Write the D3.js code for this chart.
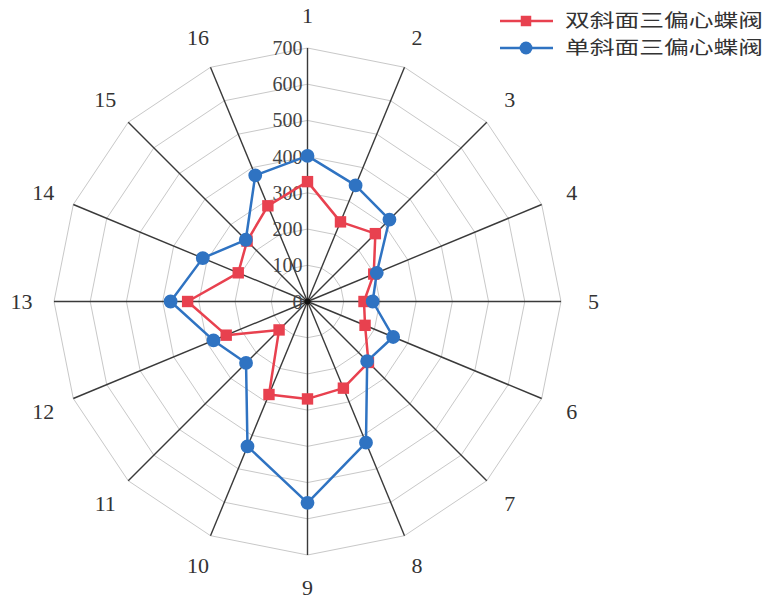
<!DOCTYPE html>
<html>
<head>
<meta charset="utf-8">
<script src="https://cdn.jsdelivr.net/npm/d3@7"></script>
<style>
  body { margin: 0; background: #fff; }
  svg { display: block; }
</style>
</head>
<body>
<svg id="chart" width="771" height="608"></svg>
<script>
// axis categories 1..16, clockwise from the top
const categories = ['1','2','3','4','5','6','7','8','9','10','11','12','13','14','15','16'];
const seriesNames = ['双斜面三偏心蝶阀', '单斜面三偏心蝶阀'];
const doubleBevel = [331, 238, 265, 198, 156, 172, 238, 259, 269, 278, 111, 243, 331, 207, 236, 286];
const singleBevel = [402, 347, 320, 207, 180, 256, 233, 422, 556, 433, 240, 281, 378, 313, 241, 377];
const ticks = [0, 100, 200, 300, 400, 500, 600, 700];

const cx = 307.5, cy = 301.5;
const outerR = 253.5;
const red = '#e8414f';
const blue = '#2f73c2';

const svg = d3.select('#chart');

const r = d3.scaleLinear().domain([0, 700]).range([0, outerR]);
const angle = d3.scaleBand().domain(categories).range([0, 2 * Math.PI]).align(0).paddingInner(0);
const ang = c => angle(c);

const g = svg.append('g').attr('transform', 'translate(' + cx + ',' + cy + ')');

function pt(c, v) {
  const a = ang(c);
  return [r(v) * Math.sin(a), -r(v) * Math.cos(a)];
}

// grid rings
const ringLine = d3.line();
ticks.slice(1).forEach(function(t) {
  const pts = categories.map(c => pt(c, t));
  pts.push(pts[0]);
  g.append('path')
    .attr('d', ringLine(pts))
    .attr('fill', 'none')
    .attr('stroke', '#c8c8c8')
    .attr('stroke-width', 1);
});

// spokes
categories.forEach(function(c) {
  const p = pt(c, 700);
  g.append('line')
    .attr('x1', 0).attr('y1', 0)
    .attr('x2', p[0]).attr('y2', p[1])
    .attr('stroke', '#3a3a3a')
    .attr('stroke-width', 1.4);
});

// tick labels along axis 1
ticks.forEach(function(t) {
  g.append('text')
    .attr('x', -5)
    .attr('y', -r(t))
    .attr('dy', '0.35em')
    .attr('text-anchor', 'end')
    .attr('style', 'font-family: "Liberation Serif", "DejaVu Serif", serif; font-size: 20px; fill: #444;')
    .text(t);
});

// category labels
categories.forEach(function(c) {
  const a = ang(c);
  const lr = 286;
  g.append('text')
    .attr('x', lr * Math.sin(a))
    .attr('y', -lr * Math.cos(a))
    .attr('dy', '0.35em')
    .attr('text-anchor', 'middle')
    .attr('style', 'font-family: "Liberation Serif", "DejaVu Serif", serif; font-size: 22px; fill: #333;')
    .text(c);
});

// series
const radial = d3.line();
function drawSeries(values, color, shape) {
  const pts = categories.map((c, i) => pt(c, values[i]));
  pts.push(pts[0]);
  g.append('path')
    .attr('d', radial(pts))
    .attr('fill', 'none')
    .attr('stroke', color)
    .attr('stroke-width', 2.5)
    .attr('stroke-linejoin', 'round');
  const sym = d3.symbol().type(shape === 'square' ? d3.symbolSquare : d3.symbolCircle)
    .size(shape === 'square' ? 130 : 150);
  g.selectAll(null)
    .data(categories)
    .enter()
    .append('path')
    .attr('d', sym)
    .attr('transform', (c, i) => {
      const p = pt(c, values[i]);
      return 'translate(' + p[0] + ',' + p[1] + ')';
    })
    .attr('fill', color);
}

drawSeries(doubleBevel, red, 'square');
drawSeries(singleBevel, blue, 'circle');

// center dot
g.append('circle').attr('r', 3).attr('fill', '#111');

// legend
const legend = svg.append('g');
[[seriesNames[0], red, 'square', 21], [seriesNames[1], blue, 'circle', 48]].forEach(function(d) {
  const y = d[3];
  legend.append('line')
    .attr('x1', 500).attr('x2', 553)
    .attr('y1', y).attr('y2', y)
    .attr('stroke', d[1])
    .attr('stroke-width', 2.5);
  legend.append('path')
    .attr('d', d3.symbol().type(d[2] === 'square' ? d3.symbolSquare : d3.symbolCircle).size(d[2] === 'square' ? 110 : 130))
    .attr('transform', 'translate(526,' + y + ')')
    .attr('fill', d[1]);
  legend.append('text')
    .attr('x', 565)
    .attr('y', y)
    .attr('dy', '0.36em')
    .attr('textLength', 198)
    .attr('lengthAdjust', 'spacingAndGlyphs')
    .attr('style', 'font-family: "Noto Sans CJK SC", sans-serif; font-size: 18px; fill: #333;')
    .text(d[0]);
});
</script>
</body>
</html>
